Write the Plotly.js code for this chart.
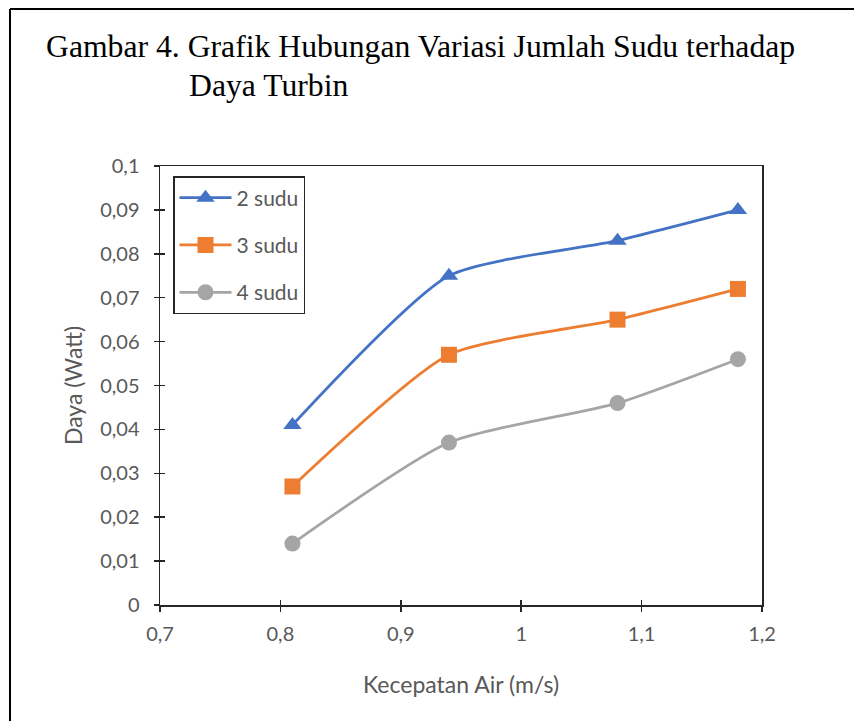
<!DOCTYPE html>
<html>
<head>
<meta charset="utf-8">
<script src="https://cdn.plot.ly/plotly-3.0.1.min.js"></script>
<style>html,body{margin:0;padding:0;background:#fff;}#chart{width:854px;height:721px;}</style>
</head>
<body>
<div id="chart"></div>
<script>
// ---- data ----
const kecepatan = [0.81, 0.94, 1.08, 1.18];
const daya2 = [0.041, 0.075, 0.083, 0.090];
const daya3 = [0.027, 0.057, 0.065, 0.072];
const daya4 = [0.014, 0.037, 0.046, 0.056];
const seriesNames = ['2 sudu', '3 sudu', '4 sudu'];
const xTickVals = [0.7, 0.8, 0.9, 1.0, 1.1, 1.2];
const xTickText = ['0,7', '0,8', '0,9', '1', '1,1', '1,2'];
const yTickVals = [0, 0.01, 0.02, 0.03, 0.04, 0.05, 0.06, 0.07, 0.08, 0.09, 0.1];
const yTickText = ['0', '0,01', '0,02', '0,03', '0,04', '0,05', '0,06', '0,07', '0,08', '0,09', '0,1'];
const titleLine1 = 'Gambar 4. Grafik Hubungan Variasi Jumlah Sudu terhadap';
const titleLine2 = 'Daya Turbin';

// ---- layout helpers ----
const W = 854, H = 721;
const L = 160, R = 762, T = 166, B = 605;
const px = x => (x - L) / (R - L);
const py = y => (B - y) / (B - T);

const colors = ['#4472C4', '#ED7D31', '#A5A5A5'];
const symbols = ['triangle-up', 'square', 'circle'];
const ys = [daya2, daya3, daya4];

const traces = ys.map((y, i) => ({
  x: kecepatan, y: y, name: seriesNames[i], type: 'scatter', mode: 'lines+markers',
  legendgroup: 'g' + i,
  line: {color: colors[i], width: 2.75, shape: 'spline', smoothing: 0.6},
  marker: {symbol: symbols[i], size: 16, color: colors[i]}
}));

const sans = 'Lato, sans-serif';
const tickFont = {family: sans, size: 20, color: '#595959'};
const axisTitleFont = {family: sans, size: 23, color: '#595959'};
const legendFont = {family: sans, size: 21, color: '#595959'};
const axisCommon = {
  showgrid: false, zeroline: false, showline: true, linecolor: '#262626', linewidth: 1.5,
  mirror: true, ticks: 'outside', ticklen: 5, tickwidth: 1.5, tickcolor: '#262626',
  tickfont: tickFont
};

const layout = {
  width: W, height: H,
  margin: {l: L, r: W - R, t: T, b: H - B},
  paper_bgcolor: '#fff', plot_bgcolor: '#fff',
  separators: ',.',
  showlegend: true,
  legend: {
    x: px(173), y: py(176), xanchor: 'left', yanchor: 'top',
    bordercolor: '#262626', borderwidth: 1.5, bgcolor: '#fff',
    font: legendFont,
    tracegroupgap: 17, itemwidth: 52
  },
  xaxis: Object.assign({}, axisCommon, {
    range: [0.7, 1.2], tickvals: xTickVals, ticktext: xTickText, ticklabelstandoff: 5,
    title: {text: 'Kecepatan Air (m/s)', font: axisTitleFont, standoff: 33}
  }),
  yaxis: Object.assign({}, axisCommon, {
    range: [0, 0.1], tickvals: yTickVals, ticktext: yTickText, ticklabelstandoff: 10,
    title: {text: 'Daya (Watt)', font: axisTitleFont, standoff: 11}
  }),
  xaxis2: {overlaying: 'x', anchor: 'y', side: 'bottom', matches: 'x', range: [0.7, 1.2],
    tickvals: xTickVals, showticklabels: false, ticks: 'inside', ticklen: 5, tickwidth: 1.5,
    tickcolor: '#262626', showgrid: false, zeroline: false, showline: false},
  yaxis2: {overlaying: 'y', anchor: 'x', side: 'left', matches: 'y', range: [0, 0.1],
    tickvals: yTickVals, showticklabels: false, ticks: 'inside', ticklen: 5, tickwidth: 1.5,
    tickcolor: '#262626', showgrid: false, zeroline: false, showline: false},
  annotations: [
    {text: titleLine1, xref: 'paper', yref: 'paper', x: px(44), y: py(46), xanchor: 'left', yanchor: 'middle',
     showarrow: false, font: {family: '"Liberation Serif", "Times New Roman", serif', size: 31.7, color: '#000'}},
    {text: titleLine2, xref: 'paper', yref: 'paper', x: px(187), y: py(86), xanchor: 'left', yanchor: 'middle',
     showarrow: false, font: {family: '"Liberation Serif", "Times New Roman", serif', size: 31.7, color: '#000'}}
  ],
  shapes: [
    {type: 'line', xref: 'paper', yref: 'paper', x0: px(10), x1: px(860), y0: py(9), y1: py(9),
     line: {color: '#000', width: 2}},
    {type: 'line', xref: 'paper', yref: 'paper', x0: px(10), x1: px(10), y0: py(9), y1: py(730),
     line: {color: '#000', width: 2}}
  ]
};

const dummy = [
  {x: [0.7], y: [0], xaxis: 'x2', yaxis: 'y', showlegend: false, hoverinfo: 'skip', mode: 'markers', marker: {opacity: 0}},
  {x: [0.7], y: [0], xaxis: 'x', yaxis: 'y2', showlegend: false, hoverinfo: 'skip', mode: 'markers', marker: {opacity: 0}}
];

Plotly.newPlot('chart', traces.concat(dummy), layout, {displayModeBar: false, staticPlot: true});
</script>
</body>
</html>
